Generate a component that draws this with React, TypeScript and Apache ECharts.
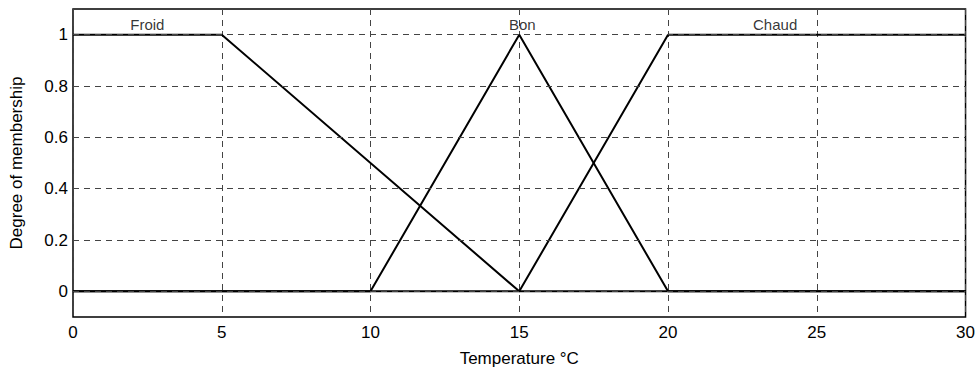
import React, { useEffect, useRef } from "react";
import * as echarts from "echarts";

const froidData: [number, number][] = [[0, 1], [5, 1], [15, 0], [30, 0]];
const bonData: [number, number][] = [[0, 0], [10, 0], [15, 1], [20, 0], [30, 0]];
const chaudData: [number, number][] = [[0, 0], [15, 0], [20, 1], [30, 1]];
const mfNames = ["Froid", "Bon", "Chaud"];
const labelX = [2.5, 15.1, 23.6];
const labelY = 1.04;
const yGridValues = [0, 0.2, 0.4, 0.6, 0.8, 1];
const xTicks = [0, 5, 10, 15, 20, 25, 30];

const FONT = "'Liberation Sans', Arial, sans-serif";

export default function App() {
  const ref = useRef<HTMLDivElement>(null);
  useEffect(() => {
    if (!ref.current) return;
    const chart = echarts.init(ref.current, undefined, { renderer: "svg" });
    const lineStyle = { color: "#000", width: 2 };
    chart.setOption({
      animation: false,
      grid: {
        left: 73,
        width: 893,
        top: 9,
        height: 313,
        show: true,
        borderColor: "#000",
        borderWidth: 1.5,
        backgroundColor: "#fff",
      },
      xAxis: {
        type: "value",
        min: xTicks[0],
        max: xTicks[xTicks.length - 1],
        interval: 5,
        name: "Temperature °C",
        nameLocation: "middle",
        nameGap: 33,
        nameTextStyle: { color: "#000", fontSize: 17, fontFamily: FONT },
        axisLine: { show: false },
        axisTick: { show: false },
        axisLabel: { color: "#000", fontSize: 17, fontFamily: FONT, margin: 7 },
        splitLine: {
          show: true,
          lineStyle: { color: "#444", width: 1, type: [6, 5] },
        },
      },
      yAxis: {
        type: "value",
        min: -0.1,
        max: 1.1,
        interval: 0.1,
        name: "Degree of membership",
        nameLocation: "middle",
        nameGap: 48,
        nameTextStyle: { color: "#000", fontSize: 17, fontFamily: FONT },
        axisLine: { show: false },
        axisTick: { show: false },
        splitLine: { show: false },
        axisLabel: {
          color: "#000",
          fontSize: 17,
          fontFamily: FONT,
          margin: 5,
          formatter: (v: number) => {
            const k = Math.round(v * 10);
            if (k < 0 || k > 10 || k % 2 !== 0) return "";
            return String(k / 10);
          },
        },
      },
      series: [
        {
          type: "line",
          data: [],
          z: 1,
          silent: true,
          markLine: {
            silent: true,
            symbol: "none",
            label: { show: false },
            lineStyle: { color: "#444", width: 1, type: [6, 5] },
            data: yGridValues.map((v) => ({ yAxis: v })),
          },
        },
        { name: mfNames[0], type: "line", data: froidData, symbol: "none", lineStyle, z: 3 },
        { name: mfNames[1], type: "line", data: bonData, symbol: "none", lineStyle, z: 3 },
        { name: mfNames[2], type: "line", data: chaudData, symbol: "none", lineStyle, z: 3 },
        {
          type: "scatter",
          symbolSize: 0,
          z: 4,
          data: mfNames.map((n, i) => ({ name: n, value: [labelX[i], labelY] })),
          label: {
            show: true,
            position: "inside",
            formatter: (p: any) => p.name,
            color: "#000",
            fontSize: 15,
            fontFamily: FONT,
          },
        },
      ],
    });
    return () => chart.dispose();
  }, []);
  return (
    <div
      ref={ref}
      style={{ position: "fixed", left: 0, top: 0, width: 978, height: 372, background: "#fff" }}
    />
  );
}
